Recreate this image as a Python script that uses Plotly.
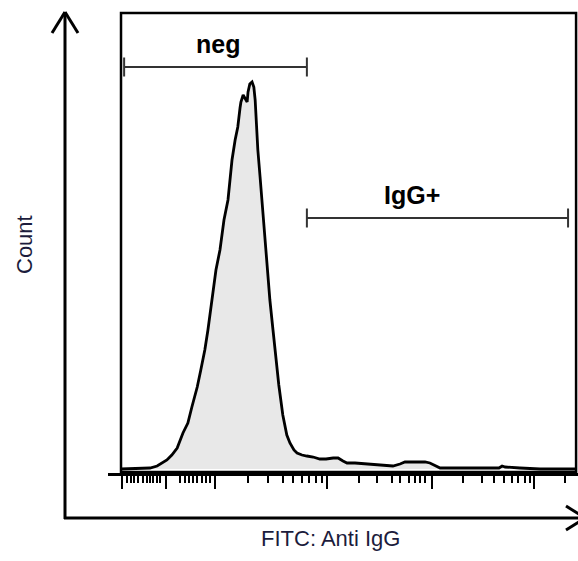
import plotly.graph_objects as go

# ---- data (channel units 0..1023, counts) ----
channel = [0, 65, 81, 92, 103, 114, 126, 139, 150, 159, 171, 179, 188, 195, 204, 213, 222, 231, 240,
           245, 249, 256, 262, 267, 269, 274, 278, 283, 285, 289, 294, 298, 301, 303, 307, 312, 316,
           321, 325, 330, 334, 341, 348, 354, 363, 372, 379, 388, 395, 406, 417, 431, 446, 460, 476,
           487, 498, 507, 525, 552, 565, 592, 610, 626, 637, 660, 682, 693, 707, 716, 761, 805, 848,
           855, 862, 895, 940, 1023]
count = [0, 1, 3, 6, 9, 14, 21, 36, 46, 62, 82, 99, 119, 139, 169, 199, 219, 249, 269,
         292, 309, 329, 342, 361, 367, 374, 371, 367, 377, 385, 387, 382, 369, 352, 319, 292, 269,
         239, 219, 194, 169, 139, 109, 84, 54, 34, 26, 19, 16, 14, 13, 12, 10, 10, 11,
         11, 8, 6, 6, 5, 4, 3, 3, 5, 7, 7, 7, 6, 3, 1, 1, 1, 1,
         3, 2, 1, 0, 0]

gate_names = ["neg", "IgG+"]
gate_start = [7, 417]
gate_end = [417, 1003]
gate_level = [402, 251]
label_x = [218, 653]
label_level = [425, 274]

major_ticks = [2, 101, 211, 462, 698, 927]
minor_ticks = [13, 22, 29, 38, 49, 58, 65, 72, 81, 88,
               132, 144, 153, 162, 171, 182, 191, 200,
               285, 330, 363, 386, 406, 422, 437, 451,
               534, 574, 608, 626, 646, 660, 671, 682,
               767, 810, 837, 859, 877, 891, 906, 918,
               996]

x_label = "FITC: Anti IgG"
y_label = "Count"

W, H = 578, 561
def px(x):
    return x / W
def py(y):
    return (H - y) / H

fig = go.Figure()
fig.add_trace(go.Scatter(
    x=channel, y=count, mode="lines",
    line=dict(color="black", width=2.8),
    fill="tozeroy", fillcolor="#e8e8e8",
    hoverinfo="skip", showlegend=False,
))

shapes = []
# frame box
shapes.append(dict(type="rect", xref="x", yref="y", x0=0, x1=1021, y0=-3, y1=456,
                   line=dict(color="black", width=2.5), layer="above"))
# gates
for s, e, lv in zip(gate_start, gate_end, gate_level):
    shapes.append(dict(type="line", xref="x", yref="y", x0=s, x1=e, y0=lv, y1=lv,
                       line=dict(color="#333333", width=2)))
    for xx in (s, e):
        shapes.append(dict(type="line", xref="x", yref="y", x0=xx, x1=xx, y0=lv - 9.5, y1=lv + 9.5,
                           line=dict(color="#333333", width=2)))
# outer arrows
ak = dict(color="black", width=3)
shapes += [
    dict(type="line", xref="paper", yref="paper", x0=px(65), x1=px(65), y0=py(519), y1=py(12), line=ak),
    dict(type="line", xref="paper", yref="paper", x0=px(65), x1=px(52), y0=py(12), y1=py(33), line=ak),
    dict(type="line", xref="paper", yref="paper", x0=px(65), x1=px(78), y0=py(12), y1=py(33), line=ak),
    dict(type="line", xref="paper", yref="paper", x0=px(64), x1=px(590), y0=py(518), y1=py(518), line=ak),
    dict(type="line", xref="paper", yref="paper", x0=px(566), x1=px(585), y0=py(506), y1=py(518), line=ak),
    dict(type="line", xref="paper", yref="paper", x0=px(566), x1=px(585), y0=py(530), y1=py(518), line=ak),
]

annotations = []
for name, lx, ll in zip(gate_names, label_x, label_level):
    annotations.append(dict(text=f"<b>{name}</b>", x=lx, y=ll,
                            xref="x", yref="y", showarrow=False, xanchor="center", yanchor="middle",
                            font=dict(family="Arial, Liberation Sans", size=25, color="black")))
annotations.append(dict(text=y_label, x=px(24), y=py(245), xref="paper", yref="paper",
                        textangle=-90, showarrow=False, xanchor="center", yanchor="middle",
                        font=dict(family="Arial, Liberation Sans", size=22, color="#1c1c3c")))
annotations.append(dict(text=x_label, x=px(330), y=py(538), xref="paper", yref="paper",
                        showarrow=False, xanchor="center", yanchor="middle",
                        font=dict(family="Arial, Liberation Sans", size=22, color="#1c1c3c")))

fig.update_layout(
    width=W, height=H, margin=dict(l=0, r=0, t=0, b=0),
    paper_bgcolor="white", plot_bgcolor="white",
    shapes=shapes, annotations=annotations,
    xaxis=dict(domain=[px(108), 1], range=[-29.2, 1025.3], showgrid=False, zeroline=False,
               showline=True, linecolor="black", linewidth=2.5,
               tickmode="array", tickvals=major_ticks, ticks="outside", ticklen=13,
               tickwidth=2, tickcolor="black", showticklabels=False,
               minor=dict(tickmode="array", tickvals=minor_ticks, ticks="outside", ticklen=7,
                          tickwidth=2, tickcolor="black", showgrid=False)),
    yaxis=dict(domain=[py(473), py(10)], range=[-4, 459], showgrid=False, zeroline=False,
               showline=False, showticklabels=False, ticks=""),
)

fig.write_html("out.html")
